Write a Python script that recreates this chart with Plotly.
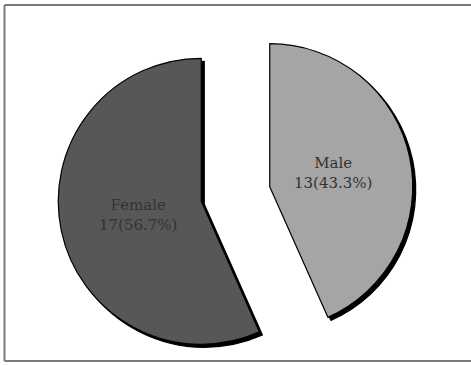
import math
import plotly.graph_objects as go

# Gender split of respondents
labels = ["Male", "Female"]
counts = [13, 17]
fills = ["#a5a5a5", "#575757"]

W, H = 471, 365
radius = 143          # slice radius, px
pull_px = 35          # how far each slice is pulled out, px
center = (235.5, 194) # pie centre before pulling, px
shadow = (3, 3)       # drop-shadow offset, px
label_r = 0.45        # label distance from slice tip, as a fraction of the radius

total = sum(counts)
CLEAR = "rgba(0,0,0,0)"

fig = go.Figure()


def bisector(i):
    start = sum(counts[:i]) / total * 360
    return math.radians(start + counts[i] / total * 180)  # clockwise from 12 o'clock


def slice_tip(i):
    mid = bisector(i)
    return (center[0] + pull_px * math.sin(mid), center[1] - pull_px * math.cos(mid))


def slice_domain(i, dx=0.0, dy=0.0):
    """Paper domain of a full pie whose i-th slice is pulled along its bisector."""
    cx, cy = slice_tip(i)
    cx += dx
    cy += dy
    return dict(
        x=[(cx - radius) / W, (cx + radius) / W],
        y=[(H - cy - radius) / H, (H - cy + radius) / H],
    )


def add_slice(i, color, line_color, dx=0.0, dy=0.0):
    colors = [CLEAR] * len(counts)
    lines = [CLEAR] * len(counts)
    colors[i] = color
    lines[i] = line_color
    fig.add_trace(go.Pie(
        labels=labels,
        values=counts,
        sort=False,
        direction="clockwise",
        rotation=0,
        domain=slice_domain(i, dx, dy),
        marker=dict(colors=colors, line=dict(color=lines, width=1.2)),
        textinfo="none",
        hoverinfo="skip",
        showlegend=False,
    ))


# shadows first, then the coloured slices on top
for i in range(len(counts)):
    add_slice(i, "#000000", "#000000", *shadow)
for i in range(len(counts)):
    add_slice(i, fills[i], "#000000")

# slice labels along each bisector
annotations = []
for i, (lab, n) in enumerate(zip(labels, counts)):
    tx, ty = slice_tip(i)
    mid = bisector(i)
    lx = tx + label_r * radius * math.sin(mid)
    ly = ty - label_r * radius * math.cos(mid)
    annotations.append(dict(
        x=lx / W, y=(H - ly) / H, xref="paper", yref="paper",
        xanchor="center", yanchor="middle",
        text=f"{lab}<br>{n}({n / total * 100:.1f}%)",
        showarrow=False, align="center",
        font=dict(family="DejaVu Serif", size=15, color="#333333"),
    ))

# frame: left, top and bottom edges
frame_color = "#7a7a7a"
fx0 = 4.5 / W
fy0 = (H - 361) / H
fy1 = (H - 5) / H
shapes = [
    dict(type="line", xref="paper", yref="paper", x0=fx0, x1=fx0, y0=fy0, y1=fy1,
         line=dict(color=frame_color, width=2), layer="below"),
    dict(type="line", xref="paper", yref="paper", x0=fx0, x1=1.0, y0=fy1, y1=fy1,
         line=dict(color=frame_color, width=2), layer="below"),
    dict(type="line", xref="paper", yref="paper", x0=fx0, x1=1.0, y0=fy0, y1=fy0,
         line=dict(color=frame_color, width=2), layer="below"),
]

fig.update_layout(
    width=W,
    height=H,
    margin=dict(l=0, r=0, t=0, b=0),
    paper_bgcolor="white",
    plot_bgcolor="white",
    showlegend=False,
    annotations=annotations,
    shapes=shapes,
)

fig.write_html("out.html")
